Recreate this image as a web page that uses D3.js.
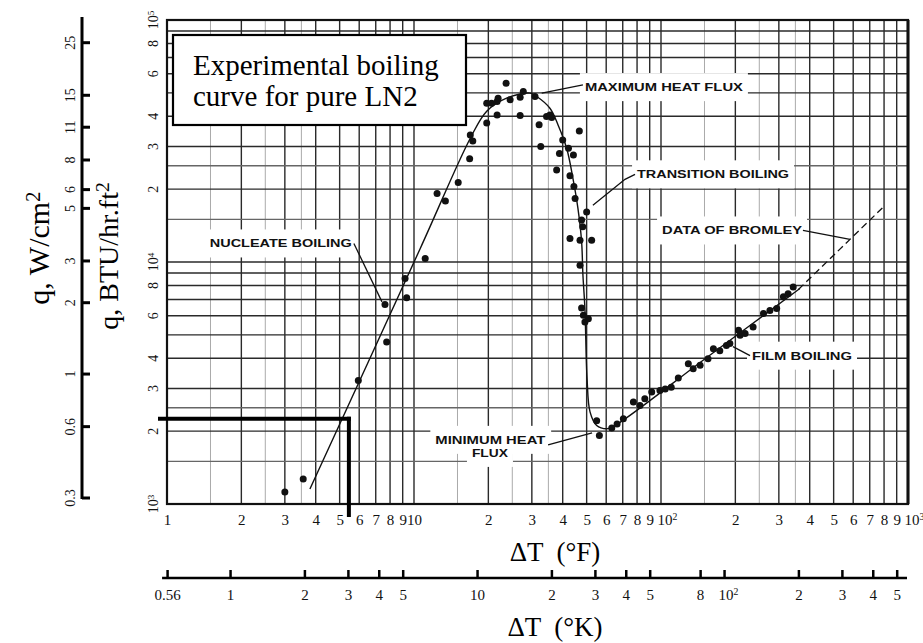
<!DOCTYPE html>
<html><head><meta charset="utf-8">
<script src="https://cdn.jsdelivr.net/npm/d3@7"></script>
<style>body{margin:0;background:#fff}svg{display:block}</style>
</head><body>
<svg id="c" width="923" height="643"></svg>
<script>
// ---------- data ----------
const fTicks  = [1,2,3,4,5,6,7,8,9,10,20,30,40,50,60,70,80,90,100,200,300,400,500,600,700,800,900,1000];
const fLabels = ["1","2","3","4","5","6","7","8","9","10","2","3","4","5","6","7","8","9","10^2","2","3","4","5","6","7","8","9","10^3"];
const kTicks  = [0.556,1,2,3,4,5,10,20,30,40,50,80,100,200,300,400,500];
const kLabels = ["0.56","1","2","3","4","5","10","2","3","4","5","8","10^2","2","3","4","5"];
const qTicks  = [1000,2000,3000,4000,6000,8000,10000,20000,30000,40000,60000,80000,100000];
const qLabels = ["10^3","2","3","4","6","8","10^4","2","3","4","6","8","10^5"];
const wTicks  = [0.3,0.6,1,2,3,5,6,8,11,15,25];
const wLabels = ["0.3","0.6","1","2","3","5","6","8","11","15","25"];
const gridMultX = [1,1.5,2,2.5,3,3.5,4,5,6,7,8,9];
const gridMultY = [1,1.5,2,2.5,3,4,5,6,7,8,9];
const minorMult = [1.5,2.5,3.5];

// boiling curve (deltaT °F, q BTU/hr.ft2)
const boilingCurve = [[3.79,1154],[10.6,11376],[16.9,32460],[19.7,42000],[23.7,47550],[29.5,49890],[31.4,48300],
  [35.5,43200],[38.3,36850],[41.5,29500],[44,22170],[46.1,16660],[47.7,12160],[48.3,8815],[49.2,6417],
  [50.2,3294],[51.6,2404],[54.9,2110],[60.3,2045],[63.9,2084],[152.8,4023],[365,7770]];
const bromleyCurve = [[360,7700],[807,17140]];
const dataPoints = [[3.0,1120],[3.56,1270],[5.95,3240],[7.75,4670],[7.63,6670],[9.34,7110],[9.2,8550],[11.1,10340],
  [12.4,19200],[13.4,17860],[15.1,21300],[16.8,26700],[16.9,33500],[17.3,31600],[19.7,37500],[19.7,45300],
  [20.6,45300],[21.7,46100],[21.9,47500],[21.7,40500],[23.6,54800],[24.5,46800],[26.9,47900],[26.9,40300],
  [27.7,50700],[30.9,48300],[32.1,36900],[32.6,30000],[34.4,39900],[35.5,40500],[36.1,39500],[37.8,24000],
  [38.8,28100],[40.0,31900],[42.2,29500],[42.8,22700],[44.2,27700],[44.4,20500],[44.9,18300],[46.7,34800],
  [47.7,14900],[48.2,14000],[50.0,16100],[42.8,12500],[47.0,12300],[52.4,12300],[47.0,9700],[47.7,6460],
  [48.5,6020],[49.2,5650],[50.8,5830],
  [56.3,1920],[54.9,2210],[63.2,2060],[66.4,2140],[70.4,2250],[77.3,2640],[82.2,2550],[86,2720],[91.7,2900],
  [99,2945],[104,2990],[110,3040],[117.5,3315],[129,3800],[135,3620],[144,3740],[155,3985],[163,4380],
  [173,4300],[184,4520],[190,4600],[206,5220],[209,4980],[219,5060],[236,5390],[260,6120],[276,6300],
  [294,6420],[313,7180],[327,7400],[343,7890]];
const readingPoint = [5.45, 2250];

const notes = [
  {text:"MAXIMUM HEAT FLUX",  at:[49.2,52800], anchor:"start"},
  {text:"TRANSITION BOILING", at:[80,23030],   anchor:"start"},
  {text:"DATA OF BROMLEY",    at:[101,13500],  anchor:"start"},
  {text:"FILM BOILING",       at:[233.6,4101], anchor:"start"},
  {text:"NUCLEATE BOILING",   at:[1.49,11930], anchor:"start"},
  {text:"MINIMUM HEAT",       at:[12.2,1841],  anchor:"start"},
  {text:"FLUX",               at:[20.3,1626],  anchor:"middle"}
];
const noteWidths = {"MAXIMUM HEAT FLUX":158,"TRANSITION BOILING":152,"DATA OF BROMLEY":140,"FILM BOILING":100,
  "NUCLEATE BOILING":142,"MINIMUM HEAT":110,"FLUX":36};
const leaders = [
  [[32.9,49860],[48.3,53970]],
  [[53.0,17140],[71.5,21960],[78.5,23030]],
  [[375.6,13500],[582.5,12390]],
  [[195.6,4468],[229.3,4101]],
  [[5.71,11930],[7.42,6842]],
  [[34.9,1755],[52.6,1968]]
];

// ---------- scales ----------
const svg = d3.select("#c");
const x  = d3.scaleLog().domain([1,1000]).range([167,908]);
const y  = d3.scaleLog().domain([1000,100000]).range([504,20]);
const xK = d3.scaleLog().domain([1/1.8,1000/1.8]).range([167,908]);
const yW = d3.scaleLog().domain([0.3,25]).range([498,42.7]);
const serif = "'Liberation Serif','Times New Roman',serif";

function isPow(str){ return /^10\^(\d)$/.test(str); }
function setLabel(sel, str){
  const m = /^10\^(\d)$/.exec(str);
  if(m){ sel.text("10"); sel.append("tspan").attr("dy","-0.45em").attr("font-size","0.65em").text(m[1]); }
  else sel.text(str);
}

// ---------- grid ----------
const g = svg.append("g");
const decadesX = [1,10,100], decadesY = [1000,10000];
const vx = []; decadesX.forEach(d=>gridMultX.forEach(m=>vx.push({v:m*d, minor:minorMult.includes(m)})));
const hy = []; decadesY.forEach(d=>gridMultY.forEach(m=>hy.push({v:m*d, minor:minorMult.includes(m)})));
g.selectAll("line.v").data(vx).join("line")
  .attr("x1",d=>x(d.v)).attr("x2",d=>x(d.v)).attr("y1",y(1000)).attr("y2",y(100000))
  .attr("stroke",d=>d.minor?"#aaa":"#2a2a2a").attr("stroke-width",d=>d.minor?1:1.4);
g.selectAll("line.h").data(hy).join("line")
  .attr("y1",d=>y(d.v)).attr("y2",d=>y(d.v)).attr("x1",x(1)).attr("x2",x(1000))
  .attr("stroke",d=>d.minor?"#666":"#2a2a2a").attr("stroke-width",1.4);
// frame
svg.append("rect").attr("x",x(1)).attr("y",y(100000)).attr("width",x(1000)-x(1)).attr("height",y(1000)-y(100000))
  .attr("fill","none").attr("stroke","#111").attr("stroke-width",2.2);
svg.append("line").attr("x1",x(1000)).attr("x2",x(1000)).attr("y1",y(100000)).attr("y2",y(1000))
  .attr("stroke","#111").attr("stroke-width",3);

// ---------- annotation patches + text ----------
const ann = svg.append("g");
notes.forEach(n=>{
  const t = ann.append("text").attr("x",x(n.at[0])).attr("y",y(n.at[1]))
    .attr("dominant-baseline","central").attr("text-anchor",n.anchor)
    .attr("font-family","'Liberation Sans',Arial,sans-serif").attr("font-weight","bold").attr("font-size",10.5)
    .attr("textLength",noteWidths[n.text]).attr("lengthAdjust","spacingAndGlyphs").attr("fill","#111").text(n.text);
  const b = t.node().getBBox();
  ann.insert("rect","text").attr("x",b.x-5).attr("y",b.y-8).attr("width",b.width+10).attr("height",b.height+16).attr("fill","#fff");
});
const lineGen = d3.line().x(d=>x(d[0])).y(d=>y(d[1]));
svg.selectAll("path.leader").data(leaders).join("path").attr("d",lineGen)
  .attr("fill","none").attr("stroke","#111").attr("stroke-width",1.3);

// ---------- curves & points ----------
svg.append("path").datum(boilingCurve)
  .attr("d",d3.line().x(d=>x(d[0])).y(d=>y(d[1])).curve(d3.curveCatmullRom.alpha(0.5)))
  .attr("fill","none").attr("stroke","#111").attr("stroke-width",1.4);
svg.append("path").datum(bromleyCurve).attr("d",lineGen)
  .attr("fill","none").attr("stroke","#111").attr("stroke-width",1.3).attr("stroke-dasharray","7,4");
svg.selectAll("circle.pt").data(dataPoints).join("circle")
  .attr("cx",d=>x(d[0])).attr("cy",d=>y(d[1])).attr("r",3.5).attr("fill","#111");

// reading lines
svg.append("line").attr("x1",x(1)-9).attr("x2",x(readingPoint[0])+2).attr("y1",y(readingPoint[1])).attr("y2",y(readingPoint[1]))
  .attr("stroke","#000").attr("stroke-width",4);
svg.append("line").attr("x1",x(readingPoint[0])).attr("x2",x(readingPoint[0])).attr("y1",y(readingPoint[1])-2).attr("y2",y(1000)+13)
  .attr("stroke","#000").attr("stroke-width",4);

// ---------- title box ----------
svg.append("rect").attr("x",173).attr("y",35).attr("width",293).attr("height",90)
  .attr("fill","#fff").attr("stroke","#000").attr("stroke-width",2.2);
svg.append("text").attr("x",193).attr("y",75).attr("font-family",serif).attr("font-size",29).attr("fill","#000").text("Experimental boiling");
svg.append("text").attr("x",193).attr("y",106).attr("font-family",serif).attr("font-size",29).attr("fill","#000").text("curve for pure LN2");

// ---------- x axis (°F) ----------
const axF = svg.append("g").attr("transform",`translate(0,${y(1000)})`)
  .call(d3.axisBottom(x).tickValues(fTicks).tickSize(0).tickPadding(10).tickFormat(()=>""));
axF.select(".domain").remove();
axF.selectAll(".tick text").each(function(d){
    const i=fTicks.indexOf(d), s=d3.select(this);
    setLabel(s,fLabels[i]);
    if(isPow(fLabels[i])) s.attr("text-anchor","start").attr("x",-4);
  })
  .attr("font-family",serif).attr("font-size",15).attr("fill","#111");
svg.append("text").attr("x",555).attr("y",561).attr("text-anchor","middle").attr("font-family",serif)
  .attr("font-size",27).style("white-space","pre").text("\u0394T  (\u00B0F)");

// ---------- x axis (°K) ----------
const axK = svg.append("g").attr("transform","translate(0,578)")
  .call(d3.axisBottom(xK).tickValues(kTicks).tickSize(-8).tickPadding(11).tickFormat(()=>""));
axK.select(".domain").remove();
axK.append("line").attr("x1",xK(0.556)-5).attr("x2",907).attr("stroke","#000").attr("stroke-width",2.5);
axK.selectAll(".tick line").attr("stroke","#000").attr("stroke-width",2.5);
axK.selectAll(".tick text").each(function(d){
    const i=kTicks.indexOf(d), s=d3.select(this);
    setLabel(s,kLabels[i]);
    if(isPow(kLabels[i])) s.attr("text-anchor","start").attr("x",-6);
  })
  .attr("font-family",serif).attr("font-size",15).attr("fill","#111");
svg.append("text").attr("x",555).attr("y",636).attr("text-anchor","middle").attr("font-family",serif)
  .attr("font-size",27).style("white-space","pre").text("\u0394T  (\u00B0K)");

// ---------- y axis (BTU) labels ----------
qTicks.forEach((v,i)=>{
  const t = svg.append("text").attr("transform",`translate(158,${y(v)}) rotate(-90)`).attr("text-anchor","middle")
    .attr("font-family",serif).attr("font-size",14).attr("fill","#111");
  setLabel(t,qLabels[i]);
});
svg.append("text").attr("transform",`translate(118,256) rotate(-90)`).attr("text-anchor","middle")
  .attr("font-family",serif).attr("font-size",28).attr("fill","#000")
  .call(t=>{ t.text("q, BTU/hr.ft"); t.append("tspan").attr("dy","-0.45em").attr("font-size","0.7em").text("2"); });

// ---------- y axis (W/cm2) ----------
const axW = svg.append("g");
axW.append("line").attr("x1",82).attr("x2",82).attr("y1",17).attr("y2",yW(0.3)+1).attr("stroke","#000").attr("stroke-width",3);
wTicks.forEach((v,i)=>{
  axW.append("line").attr("x1",82).attr("x2",90).attr("y1",yW(v)).attr("y2",yW(v)).attr("stroke","#000").attr("stroke-width",3);
  axW.append("text").attr("transform",`translate(75,${yW(v)}) rotate(-90)`).attr("text-anchor","middle")
    .attr("font-family",serif).attr("font-size",14).attr("fill","#111").text(wLabels[i]);
});
svg.append("text").attr("transform",`translate(49,248) rotate(-90)`).attr("text-anchor","middle")
  .attr("font-family",serif).attr("font-size",30).attr("fill","#000")
  .call(t=>{ t.text("q, W/cm"); t.append("tspan").attr("dy","-0.45em").attr("font-size","0.7em").text("2"); });
</script>
</body></html>
